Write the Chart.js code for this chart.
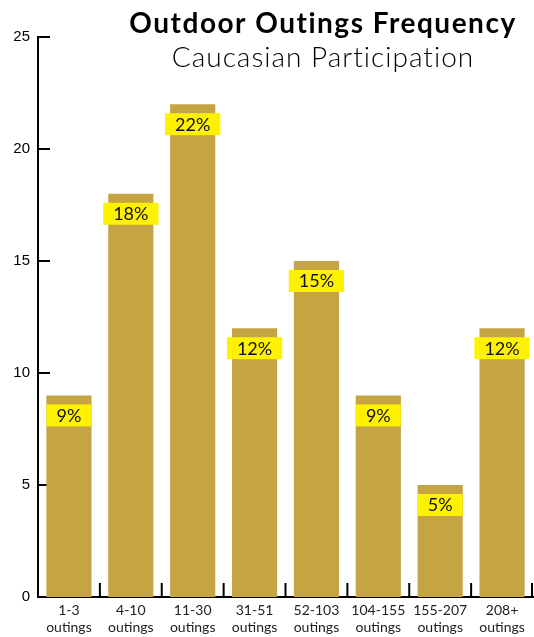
<!DOCTYPE html>
<html>
<head>
<meta charset="utf-8">
<script src="https://cdn.jsdelivr.net/npm/chart.js@4.4.1/dist/chart.umd.min.js"></script>
<style>
  html, body { margin: 0; padding: 0; background: #fff; }
  #wrap { width: 534px; height: 637px; }
</style>
</head>
<body>
<div id="wrap"><canvas id="outingsChart"></canvas></div>
<script>
// Caucasian participation by number of outings
const categories = [
  ['1-3', 'outings'], ['4-10', 'outings'], ['11-30', 'outings'], ['31-51', 'outings'],
  ['52-103', 'outings'], ['104-155', 'outings'], ['155-207', 'outings'], ['208+', 'outings']
];
const participation = [9, 18, 22, 12, 15, 9, 5, 12];
const percentLabels = ['9%', '18%', '22%', '12%', '15%', '9%', '5%', '12%'];
const yTicks = [0, 5, 10, 15, 20, 25];

// tick marks pointing inwards (y) and upwards (x)
const tickMarks = {
  id: 'tickMarks',
  beforeDatasetsDraw(chart) {
    const { ctx, chartArea, scales } = chart;
    ctx.save();
    ctx.strokeStyle = '#000';
    ctx.lineWidth = 2;
    yTicks.forEach(v => {
      const y = scales.y.getPixelForValue(v);
      ctx.beginPath();
      ctx.moveTo(chartArea.left, y);
      ctx.lineTo(chartArea.left + 12, y);
      ctx.stroke();
    });
    for (let i = 1; i <= categories.length; i++) {
      let x;
      if (i === categories.length) x = chartArea.right - 1;
      else x = (scales.x.getPixelForValue(i - 1) + scales.x.getPixelForValue(i)) / 2;
      ctx.beginPath();
      ctx.moveTo(x, chartArea.bottom);
      ctx.lineTo(x, chartArea.bottom - 14);
      ctx.stroke();
    }
    ctx.restore();
  }
};

// yellow percentage boxes
const percentBoxes = {
  id: 'percentBoxes',
  afterDatasetsDraw(chart) {
    const { ctx } = chart;
    const meta = chart.getDatasetMeta(0);
    ctx.save();
    ctx.font = '18px Lato, "Noto Sans", sans-serif';
    ctx.textAlign = 'center';
    ctx.textBaseline = 'middle';
    meta.data.forEach((bar, i) => {
      const txt = percentLabels[i];
      const w = ctx.measureText(txt).width + 20;
      const top = bar.y + 9;
      ctx.fillStyle = '#FFF200';
      ctx.fillRect(bar.x - w / 2, top, w, 22);
      ctx.fillStyle = '#111';
      ctx.fillText(txt, bar.x, top + 11.5);
    });
    ctx.restore();
  }
};

const titles = {
  id: 'titles',
  afterDraw(chart) {
    const { ctx } = chart;
    ctx.save();
    ctx.fillStyle = '#000';
    ctx.textAlign = 'center';
    ctx.textBaseline = 'alphabetic';
    ctx.letterSpacing = '1.5px';
    ctx.font = 'bold 28px Lato, "Noto Sans", sans-serif';
    ctx.fillText('Outdoor Outings Frequency', 323, 33);
    ctx.letterSpacing = '1px';
    ctx.font = '300 28px Lato, "Noto Sans", sans-serif';
    ctx.fillText('Caucasian Participation', 323, 67);
    ctx.restore();
  }
};

new Chart(document.getElementById('outingsChart').getContext('2d'), {
  type: 'bar',
  data: {
    labels: categories,
    datasets: [{
      label: 'Participation',
      data: participation,
      backgroundColor: '#C4A443',
      barPercentage: 0.73,
      categoryPercentage: 1
    }]
  },
  options: {
    responsive: true,
    maintainAspectRatio: false,
    animation: false,
    layout: { padding: { top: 37, right: 1, left: 0, bottom: 0 } },
    plugins: {
      legend: { display: false },
      tooltip: { enabled: false }
    },
    scales: {
      x: {
        grid: { display: false, drawTicks: false },
        border: { display: true, color: '#000', width: 2 },
        ticks: {
          padding: 5,
          color: '#222',
          font: { family: 'Lato, "Noto Sans", sans-serif', size: 14, lineHeight: 1.2 }
        },
        afterFit: s => { s.height = 40; }
      },
      y: {
        min: 0,
        max: 25,
        grid: { display: false, drawTicks: false },
        border: { display: true, color: '#000', width: 2 },
        ticks: {
          stepSize: 5,
          padding: 8,
          color: '#000',
          font: { family: '"Liberation Sans", Arial, sans-serif', size: 15 }
        },
        afterFit: s => { s.width = 38; }
      }
    }
  },
  plugins: [tickMarks, percentBoxes, titles]
});
</script>
</body>
</html>
